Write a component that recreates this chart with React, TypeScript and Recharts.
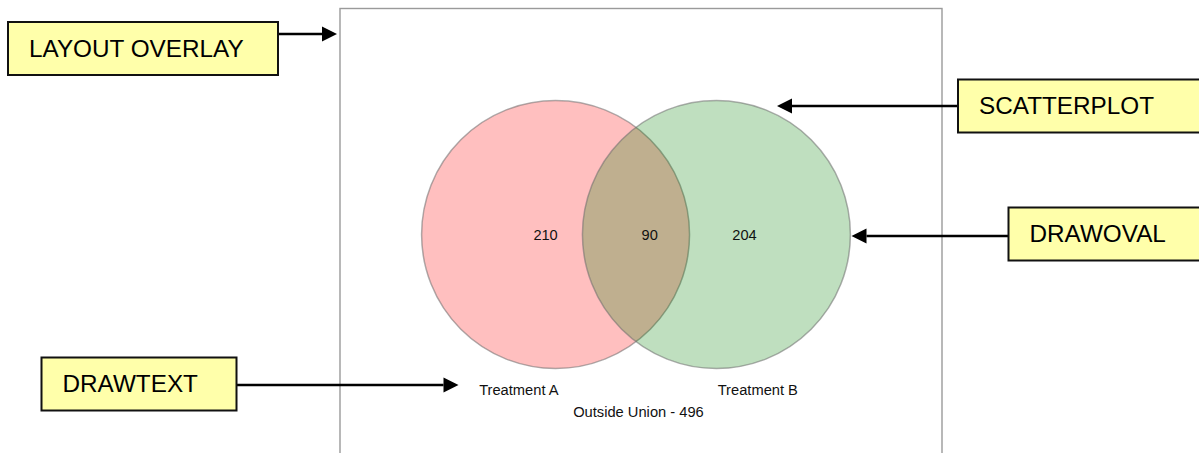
import { ScatterChart, Scatter, XAxis, YAxis } from 'recharts'

// venn sets (data units: circle radius = 100)
const setNames = ['Treatment A', 'Treatment B']
const setCenterX = [-60.5, 60]
const setRadius = [100, 100]
const setColors = ['#ff0000', '#008000']

// region counts: A only, A and B, B only
const regionCounts = [210, 90, 204]
const regionLabelX = [-68, 10, 81]

// set name labels below the circles
const setLabelX = [-88, 91]
const setLabelY = -120

const outsideCount = 496
const outsideLabelX = 1.6
const outsideLabelY = -136.5

const X_MIN = -222
const X_MAX = 229
const Y_MIN = -169.65
const Y_MAX = 169.65
const CHART_W = 602
const CHART_H = 453
const PX_PER_UNIT = CHART_W / (X_MAX - X_MIN)
const FONT = '"Liberation Sans", Arial, sans-serif'

const circleData = setNames.map((name, i) => ({
  name,
  x: setCenterX[i],
  y: 0,
  r: setRadius[i],
  color: setColors[i],
}))

const countData = regionCounts.map((c, i) => ({ x: regionLabelX[i], y: 0, text: String(c) }))

const nameData = [
  ...setNames.map((n, i) => ({ x: setLabelX[i], y: setLabelY, text: n })),
  { x: outsideLabelX, y: outsideLabelY, text: `Outside Union - ${outsideCount}` },
]

const VennCircle = (props: any) => {
  const { cx, cy, payload } = props
  return (
    <circle
      cx={cx}
      cy={cy}
      r={payload.r * PX_PER_UNIT + 0.5}
      fill={payload.color}
      fillOpacity={0.25}
      stroke="rgba(110,110,110,0.55)"
      strokeWidth={1.5}
    />
  )
}

const CountText = (props: any) => {
  const { cx, cy, payload } = props
  return (
    <text x={cx} y={cy + 5.5} textAnchor="middle" fontSize={14.6} fontFamily={FONT} fill="#111">
      {payload.text}
    </text>
  )
}

const NameText = (props: any) => {
  const { cx, cy, payload } = props
  return (
    <text x={cx} y={cy} textAnchor="middle" fontSize={14.7} fontFamily={FONT} fill="#111">
      {payload.text}
    </text>
  )
}

// annotation callouts around the graph
const callouts = [
  { text: 'LAYOUT OVERLAY', x: 8, y: 22, w: 270, h: 53, from: [278, 34], to: [337, 34] },
  { text: 'SCATTERPLOT', x: 958, y: 79.5, w: 250, h: 53, from: [958, 106], to: [777, 106] },
  { text: 'DRAWOVAL', x: 1008.5, y: 207.5, w: 200, h: 53, from: [1008.5, 236], to: [851.5, 236] },
  { text: 'DRAWTEXT', x: 41.5, y: 357.5, w: 195, h: 53, from: [237, 385], to: [458.5, 385] },
]

function Overlay() {
  return (
    <svg
      width={1199}
      height={453}
      style={{ position: 'absolute', left: 0, top: 0, pointerEvents: 'none' }}
    >
      <rect x={340} y={8.5} width={602} height={500} fill="none" stroke="#9a9a9a" strokeWidth={1.4} />
      {callouts.map((c) => {
        const [x1, y1] = c.from
        const [x2, y2] = c.to
        const dir = Math.sign(x2 - x1)
        const headLen = 15
        const half = 7.5
        return (
          <g key={c.text}>
            <line x1={x1} y1={y1} x2={x2 - dir * headLen} y2={y2} stroke="#000" strokeWidth={2.6} />
            <polygon
              points={`${x2},${y2} ${x2 - dir * headLen},${y2 - half} ${x2 - dir * headLen},${y2 + half}`}
              fill="#000"
            />
            <rect x={c.x} y={c.y} width={c.w} height={c.h} fill="#ffffaa" stroke="#111" strokeWidth={2} />
            <text
              x={c.x + 21}
              y={c.y + c.h / 2 + 8}
              fontSize={24.3}
              fontFamily={FONT}
              fill="#000"
            >
              {c.text}
            </text>
          </g>
        )
      })}
    </svg>
  )
}

export default function App() {
  return (
    <div
      style={{
        position: 'absolute',
        left: 0,
        top: 0,
        width: 1199,
        height: 453,
        overflow: 'hidden',
        background: '#fff',
      }}
    >
      <div style={{ position: 'absolute', left: 340, top: 8 }}>
        <ScatterChart width={CHART_W} height={CHART_H} margin={{ top: 0, right: 0, bottom: 0, left: 0 }}>
          <XAxis type="number" dataKey="x" domain={[X_MIN, X_MAX]} allowDataOverflow hide />
          <YAxis type="number" dataKey="y" domain={[Y_MIN, Y_MAX]} allowDataOverflow hide />
          <Scatter data={circleData} shape={VennCircle} isAnimationActive={false} />
          <Scatter data={countData} shape={CountText} isAnimationActive={false} />
          <Scatter data={nameData} shape={NameText} isAnimationActive={false} />
        </ScatterChart>
      </div>
      <Overlay />
    </div>
  )
}
